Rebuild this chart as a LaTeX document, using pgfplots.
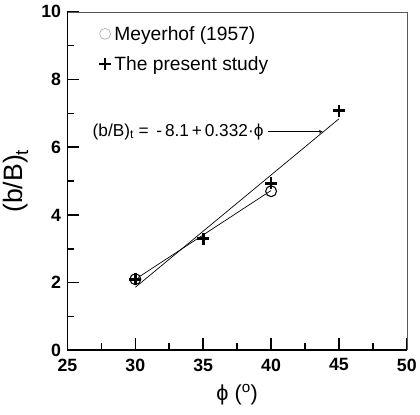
\documentclass[border=0pt]{standalone}
\usepackage{pgfplots}
\pgfplotsset{compat=1.18}
\usepackage{fontspec}
\setmainfont{Liberation Sans}
\begin{document}
\begin{tikzpicture}
\begin{axis}[
  scale only axis,
  width=343bp, height=342bp,
  xmin=25, xmax=50, ymin=0, ymax=10,
  xtick={25,30,...,50}, ytick={0,2,...,10},
  minor xtick={27.5,32.5,...,47.5}, minor ytick={1,3,...,9},
  tick align=inside,
  xtick pos=bottom, ytick pos=left,
  major tick length=12bp, minor tick length=7bp,
  every tick/.style={line width=1.6pt, black},
  /pgf/number format/assume math mode=true,
  tick label style={font=\bfseries\fontsize{18}{18}\selectfont},
  xticklabel style={yshift=-5bp},
  yticklabel style={xshift=-3bp},
  axis line style={draw=none},
  clip=false,
  xlabel={\fontsize{22}{22}\selectfont ϕ (\textsuperscript{o})},
  ylabel={\fontsize{27}{27}\selectfont (b/B)\textsubscript{\raisebox{-2bp}{t}}},
  xlabel style={at={(axis description cs:0.5,0)}, anchor=north, yshift=-31bp},
  ylabel style={at={(axis description cs:0,0.5)}, anchor=south, yshift=36bp},
  legend style={at={(axis cs:27.0,9.7)}, anchor=north west, draw=none, fill=none,
    font=\fontsize{19.5}{19.5}\selectfont, row sep=11bp,
    nodes={inner xsep=2bp}},
  legend cell align=left,
]
% frame
\draw[gray!70!black, line width=0.6pt] (rel axis cs:0,1) -- (rel axis cs:1,1) -- (rel axis cs:1,0);
\draw[black, line width=1.6pt] (rel axis cs:0,1) -- (rel axis cs:0,0) -- (rel axis cs:1,0);
% lines
\addplot[black, line width=0.7pt, forget plot] coordinates {(30.2,2.15) (40,4.72)};
\addplot[black, line width=0.7pt, forget plot] coordinates {(30,1.86) (45,6.84)};
% markers
\addplot[only marks, mark=o, mark size=5.5bp, black, line width=1.1pt,
  legend image code/.code={\draw[gray!60, line width=0.7pt] (0.25cm,0) circle (5.5bp);}]
  coordinates {(30,2.1) (40,4.7)};
\addlegendentry{Meyerhof (1957)}
\addplot[only marks, mark=+, mark size=6bp, black, line width=2.8pt,
  legend image code/.code={\draw[black, line width=2.8pt] (0.25cm-6bp,0) -- (0.25cm+6bp,0) (0.25cm,-6bp) -- (0.25cm,6bp);}]
  coordinates {(30,2.1) (35,3.3) (40,4.93) (45,7.08)};
\addlegendentry{The present study}
% equation
\node[anchor=east, inner sep=0pt, font=\fontsize{17.5}{17.5}\selectfont] at (axis cs:39.45,6.46)
  {(b/B)\textsubscript{t} = \,-\,8.1\,+\,0.332·ϕ};
\draw[->, line width=0.7pt, >=stealth] (axis cs:39.75,6.46) -- (axis cs:43.8,6.46);
\end{axis}
\path ([xshift=-65bp,yshift=-65bp]current axis.south west) rectangle ([xshift=12bp,yshift=12bp]current axis.north east);
\end{tikzpicture}
\end{document}
